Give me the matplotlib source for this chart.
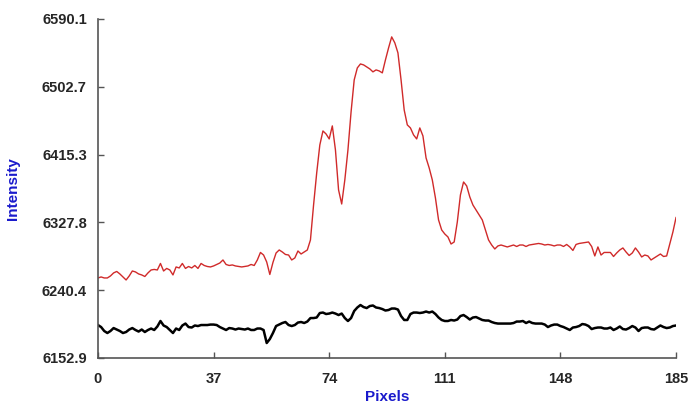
import numpy as np
import matplotlib
matplotlib.use("Agg")
import matplotlib.pyplot as plt

# intensity profiles along the pixel row
red_profile = [
    6256.1, 6257.4, 6256.1, 6256.1, 6258.7, 6262.6, 6264.5, 6261.3, 6257.4, 6253.5,
    6258.7, 6265.1, 6263.9, 6261.3, 6260.0, 6258.0, 6262.6, 6266.4, 6267.1, 6266.4,
    6274.8, 6265.1, 6268.4, 6266.4, 6260.0, 6270.3, 6269.0, 6274.8, 6268.4, 6270.9,
    6269.0, 6272.2, 6268.4, 6274.8, 6272.2, 6270.9, 6270.3, 6271.6, 6273.5, 6275.4,
    6279.3, 6273.5, 6272.2, 6272.9, 6271.6, 6270.9, 6270.3, 6270.9, 6271.6, 6273.5,
    6272.2, 6279.3, 6289.0, 6285.7, 6276.7, 6260.6, 6276.1, 6288.3, 6292.2, 6289.6,
    6286.4, 6285.7, 6279.3, 6281.9, 6290.9, 6287.0, 6289.6, 6292.2, 6305.1, 6350.2,
    6391.5, 6427.6, 6445.7, 6441.8, 6435.4, 6452.2, 6421.2, 6369.6, 6351.5, 6382.5,
    6421.2, 6470.2, 6511.5, 6527.0, 6532.1, 6530.9, 6528.3, 6525.7, 6521.9, 6524.4,
    6523.1, 6520.6, 6537.3, 6552.8, 6567.0, 6559.3, 6546.4, 6511.5, 6472.8, 6453.5,
    6449.6, 6440.6, 6435.4, 6449.6, 6439.3, 6410.9, 6398.0, 6382.5, 6359.3, 6330.9,
    6318.0, 6312.8, 6309.0, 6299.9, 6302.5, 6328.3, 6363.2, 6379.9, 6374.8, 6360.6,
    6350.2, 6343.8, 6337.4, 6330.9, 6318.0, 6305.1, 6298.6, 6293.5, 6297.4, 6298.6,
    6297.4, 6296.1, 6297.4, 6298.6, 6296.7, 6298.6, 6298.6, 6296.7, 6298.6, 6299.3,
    6299.9, 6300.6, 6299.9, 6298.6, 6299.3, 6298.6, 6297.4, 6298.6, 6298.6, 6296.7,
    6299.3, 6296.1, 6291.6, 6299.3, 6300.6, 6301.2, 6301.9, 6302.5, 6296.7, 6284.5,
    6296.1, 6285.7, 6289.0, 6289.0, 6289.0, 6283.8, 6288.3, 6292.2, 6294.8, 6289.6,
    6285.1, 6288.3, 6294.8, 6289.6, 6283.2, 6285.7, 6284.5, 6279.3, 6281.9, 6284.5,
    6287.0, 6283.8, 6284.5, 6300.0, 6315.4, 6334.0,
]

black_profile = [
    6195.4, 6192.8, 6187.7, 6185.1, 6187.7, 6191.5, 6189.6, 6187.7, 6185.1, 6186.4,
    6189.6, 6191.5, 6189.0, 6187.0, 6189.6, 6186.4, 6189.0, 6190.9, 6189.0, 6193.5,
    6200.6, 6194.8, 6192.8, 6189.0, 6185.1, 6190.9, 6189.0, 6194.8, 6197.3, 6192.8,
    6192.2, 6194.8, 6194.1, 6195.4, 6195.4, 6195.4, 6196.0, 6196.0, 6195.4, 6192.8,
    6190.9, 6189.0, 6191.5, 6190.9, 6189.6, 6190.9, 6190.2, 6189.6, 6190.9, 6189.0,
    6189.0, 6190.9, 6190.9, 6189.0, 6172.2, 6177.3, 6185.1, 6194.1, 6196.0, 6198.0,
    6199.3, 6195.4, 6194.1, 6195.4, 6198.6, 6199.3, 6198.0, 6199.9, 6204.4, 6204.4,
    6205.1, 6210.9, 6211.5, 6209.6, 6210.2, 6211.5, 6210.2, 6208.3, 6210.2, 6204.4,
    6200.6, 6204.4, 6213.5, 6218.0, 6221.2, 6218.6, 6217.3, 6219.9, 6220.6, 6218.0,
    6217.3, 6216.0, 6214.1, 6214.8, 6216.7, 6216.7, 6215.4, 6207.0, 6201.9, 6201.9,
    6209.6, 6211.5, 6211.5, 6210.9, 6211.5, 6212.8, 6211.5, 6212.8, 6209.6, 6205.1,
    6201.9, 6200.6, 6200.6, 6201.9, 6201.2, 6202.5, 6207.0, 6208.3, 6205.7, 6202.5,
    6205.1, 6205.7, 6203.8, 6201.9, 6201.2, 6201.2, 6199.3, 6198.0, 6197.3, 6197.3,
    6197.3, 6197.3, 6197.3, 6198.0, 6199.9, 6199.9, 6200.6, 6198.0, 6199.9, 6198.0,
    6197.3, 6197.3, 6197.3, 6196.0, 6192.8, 6194.8, 6196.0, 6196.0, 6194.1, 6192.8,
    6190.9, 6189.0, 6192.2, 6192.8, 6194.1, 6196.7, 6196.0, 6194.1, 6190.2, 6191.5,
    6192.2, 6192.2, 6190.9, 6190.9, 6192.2, 6189.0, 6190.9, 6193.5, 6190.2, 6189.6,
    6191.5, 6194.1, 6192.2, 6187.7, 6191.5, 6192.2, 6192.2, 6190.2, 6189.6, 6192.2,
    6194.8, 6192.8, 6191.5, 6192.2, 6194.1, 6194.8,
]

x_ticks = [0, 37, 74, 111, 148, 185]
y_ticks = [6152.9, 6240.4, 6327.8, 6415.3, 6502.7, 6590.1]

pixels = np.arange(len(red_profile))

plt.rcParams['font.family'] = ['Liberation Sans', 'DejaVu Sans']

fig = plt.figure(figsize=(6.88, 4.03), dpi=100)
ax = fig.add_axes([0.1424, 0.1117, 0.8402, 0.8412])

ax.plot(pixels, red_profile, color="#d02a2a", linewidth=1.0)
ax.plot(pixels, black_profile, color="black", linewidth=1.8)

ax.set_xlim(0, 185)
ax.set_ylim(y_ticks[0], y_ticks[-1])
ax.set_xticks(x_ticks)
ax.set_yticks(y_ticks)
ax.set_yticklabels(["{:.1f}".format(v) for v in y_ticks])

for side in ["top", "right"]:
    ax.spines[side].set_visible(False)
for side in ["left", "bottom"]:
    ax.spines[side].set_color("#555555")
    ax.spines[side].set_linewidth(1.2)

ax.tick_params(direction="in", length=4, width=1, color="#555555",
               labelsize=10.5, labelcolor="#262626")
ax.tick_params(axis="y", pad=8)
ax.tick_params(axis="x", pad=10)
for lbl in ax.get_xticklabels() + ax.get_yticklabels():
    lbl.set_fontweight("bold")

ax.set_xlabel("Pixels", color="#1a1acc", fontsize=11, fontweight="bold", labelpad=3)
ax.set_ylabel("Intensity", color="#1a1acc", fontsize=11, fontweight="bold", labelpad=16)

fig.savefig("out.png", dpi=100)
